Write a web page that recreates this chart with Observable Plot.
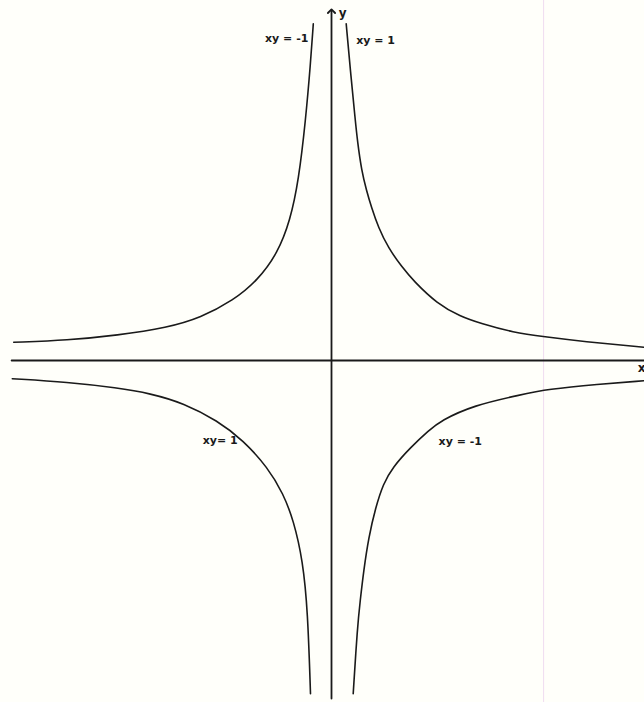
<!DOCTYPE html>
<html>
<head>
<meta charset="utf-8">
<script src="https://cdn.jsdelivr.net/npm/d3@7"></script>
<script src="https://cdn.jsdelivr.net/npm/@observablehq/plot@0.6"></script>
<style>
  html, body { margin: 0; padding: 0; background: #fffffa; }
  #chart svg { display: block; background: #fffffa; }
</style>
</head>
<body>
<div id="chart"></div>
<script>
// Branch points (x, y in drawing units)
const topRightX = [0.21, 0.27, 0.34, 0.37, 0.43, 0.50, 0.57, 0.67, 0.81, 1.01, 1.17, 1.51, 1.84, 2.13, 2.60, 3.03, 3.60, 4.46];
const topRightY = [4.81, 4.14, 3.43, 3.14, 2.71, 2.43, 2.19, 1.90, 1.61, 1.33, 1.14, 0.81, 0.63, 0.53, 0.40, 0.34, 0.27, 0.19];

const topLeftX = [-0.26, -0.30, -0.37, -0.47, -0.59, -0.77, -1.06, -1.40, -1.87, -2.34, -3.06, -3.77, -4.54];
const topLeftY = [4.81, 4.24, 3.43, 2.57, 2.00, 1.53, 1.14, 0.86, 0.61, 0.47, 0.36, 0.29, 0.26];

const bottomLeftX = [-4.56, -3.77, -3.06, -2.59, -2.11, -1.63, -1.26, -0.91, -0.69, -0.54, -0.41, -0.34, -0.30];
const bottomLeftY = [-0.26, -0.31, -0.39, -0.47, -0.61, -0.86, -1.14, -1.53, -1.90, -2.29, -2.86, -3.57, -4.76];

const bottomRightX = [0.31, 0.37, 0.41, 0.46, 0.53, 0.63, 0.74, 0.87, 1.13, 1.39, 1.56, 2.03, 2.70, 3.09, 3.80, 4.46];
const bottomRightY = [-4.76, -3.81, -3.43, -3.00, -2.53, -2.10, -1.76, -1.53, -1.24, -1.00, -0.86, -0.64, -0.49, -0.41, -0.34, -0.29];

// Labels
const labelText = ["xy = -1", "xy = 1", "xy= 1", "xy = -1"];
const labelX = [-0.64, 0.63, -1.59, 1.84];
const labelY = [4.60, 4.57, -1.14, -1.16];

const axisNames = ["y", "x"];
const axisNameX = [0.16, 4.43];
const axisNameY = [4.96, -0.11];

// Axis extents
const xAxisExtent = [-4.57, 4.47];
const yAxisExtent = [-4.83, 4.99];

const zip = (xs, ys) => xs.map((x, i) => ({x, y: ys[i]}));
const branches = [
  zip(topRightX, topRightY),
  zip(topLeftX, topLeftY),
  zip(bottomLeftX, bottomLeftY),
  zip(bottomRightX, bottomRightY)
];
const labels = labelText.map((t, i) => ({t, x: labelX[i], y: labelY[i]}));
const names = axisNames.map((t, i) => ({t, x: axisNameX[i], y: axisNameY[i]}));

const ink = "#1a1a1a";
const font = "DejaVu Sans, sans-serif";

const marks = [
  // faint paper edge from the scan
  Plot.ruleX([3.03], {stroke: "#f0dcf0", strokeWidth: 1}),
  // x axis
  Plot.line([{x: xAxisExtent[0], y: 0}, {x: xAxisExtent[1], y: 0}], {x: "x", y: "y", stroke: ink, strokeWidth: 1.8}),
  // y axis with arrow
  Plot.line([{x: 0, y: yAxisExtent[0]}, {x: 0, y: yAxisExtent[1]}], {x: "x", y: "y", stroke: ink, strokeWidth: 1.8, markerEnd: "arrow"}),
  ...branches.map(b => Plot.line(b, {x: "x", y: "y", curve: "basis", stroke: ink, strokeWidth: 1.6})),
  Plot.text(labels, {x: "x", y: "y", text: "t", fontSize: 11, fontWeight: "bold", fontFamily: font, fill: ink}),
  Plot.text(names, {x: "x", y: "y", text: "t", fontSize: 12, fontWeight: "bold", fontFamily: font, fill: ink})
];

const chart = Plot.plot({
  width: 644,
  height: 702,
  margin: 0,
  x: {domain: [-331 / 70, 313 / 70], axis: null},
  y: {domain: [-342 / 70, 360 / 70], axis: null},
  marks
});
document.getElementById("chart").appendChild(chart);
</script>
</body>
</html>
